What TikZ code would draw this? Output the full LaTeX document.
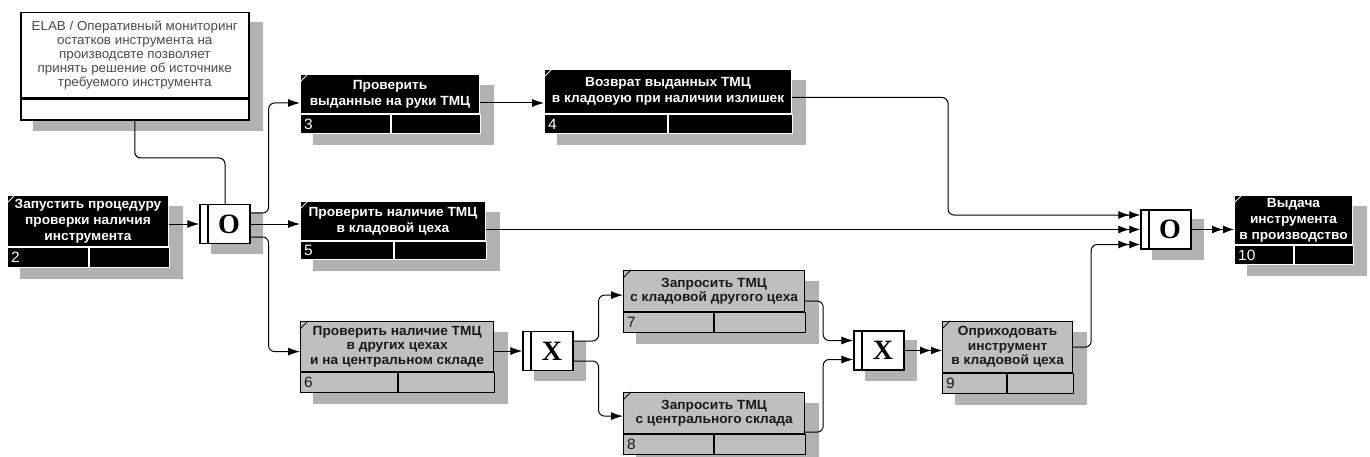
\documentclass[tikz,border=0pt]{standalone}
\usepackage{fontspec}
\setmainfont{Liberation Sans}[FakeStretch=1.03]
\newfontfamily\junfont{Liberation Serif}
\usetikzlibrary{arrows.meta,backgrounds}

\begin{document}
\begin{tikzpicture}[x=1pt, y=-1pt,
    every node/.style={font=\fontsize{13}{15}\selectfont},
    dkbox/.style={rectangle, anchor=north west, fill=black, draw=white, line width=1pt, text=white, font=\fontsize{13.3}{16}\selectfont\bfseries, align=center, inner sep=1pt},
    dkcell/.style={rectangle, anchor=north west, fill=black, draw=white, line width=1pt, inner sep=0pt},
    grbox/.style={rectangle, anchor=north west, fill=black!25, draw=black, line width=1.2pt, text=black!90, font=\fontsize{13.3}{14.5}\selectfont\bfseries, align=center, inner sep=1pt},
    grcell/.style={rectangle, anchor=north west, fill=black!25, draw=black, line width=1.2pt, inner sep=0pt},
    notebox/.style={rectangle, anchor=north west, fill=white, draw=black, line width=1.5pt, text=black!70, align=center, inner sep=1pt, font=\fontsize{13}{14}\selectfont},
    numtxt/.style={anchor=west, inner sep=0pt, font=\fontsize{15}{15}\selectfont},
    junc/.style={rectangle, draw, fill=white, line width=1.2pt, minimum width=50, minimum height=39, inner sep=0pt,
        font=\junfont\fontsize{28}{28}\selectfont\bfseries,
        path picture={\draw[line width=1.2pt] ([xshift=8pt]path picture bounding box.north west) -- ([xshift=8pt]path picture bounding box.south west);}},
    boxshadow/.style={fill=black!30},
    arr/.style={-{Latex[length=12pt,width=8pt]}, line width=1pt, rounded corners=6pt},
    arrr/.style={-{Latex[length=11pt,width=8pt] Latex[length=11pt,width=8pt]}, line width=1pt, rounded corners=6pt}
]
    \useasboundingbox (0,0) rectangle (1370,457);

    % Note on the source of the tool
    \node[notebox, minimum width=228, minimum height=85] (note) at (20,12) {ELAB / Оперативный мониторинг\\остатков инструмента на\\производсвте позволяет\\принять решение об источнике\\требуемого инструмента};
    \node[notebox, minimum width=228, minimum height=21] (nrow) at (note.south west) {};
    \begin{scope}[on background layer]
        \fill[boxshadow] ([shift={(13pt,-10pt)}]note.north west) rectangle ([shift={(13pt,-10pt)}]nrow.south east);
    \end{scope}

    % Black process boxes
    \foreach \nm/\px/\py/\bw/\bh/\rh/\cw/\lbl/\txt in {
        b2/7/195/161/51/20/81/2/{Запустить процедуру\\проверки наличия\\инструмента},
        b3/300/74/179/39/19/90/3/{Проверить\\выданные на руки ТМЦ},
        b4/544/69/247/44/19/123/4/{Возврат выданных ТМЦ\\в кладовую при наличии излишек},
        b5/300/201/185/39/18/93/5/{Проверить наличие ТМЦ\\в кладовой цеха},
        b10/1234/195/118/49/19/59/10/{Выдача\\инструмента\\в производство}} {
        \node[dkbox, minimum width=\bw, minimum height=\bh] (\nm) at (\px,\py) {\txt};
        \node[dkcell, minimum width=\cw, minimum height=\rh] (\nm l) at (\nm.south west) {};
        \node[dkcell, minimum width=\bw-\cw, minimum height=\rh] (\nm r) at (\nm l.north east) {};
        \node[numtxt, text=white] (\nm n) at ([xshift=4pt]\nm l.west) {\lbl};
        \draw[white, line width=1pt] ([yshift=-8pt]\nm.north west) -- ([xshift=8pt]\nm.north west);
        \begin{scope}[on background layer]
            \fill[boxshadow] ([shift={(13pt,-11pt)}]\nm.north west) rectangle ([shift={(13pt,-11pt)}]\nm r.south east);
        \end{scope}
    }

    % Grey process boxes
    \foreach \nm/\px/\py/\bw/\bh/\rh/\cw/\lbl/\txt in {
        b6/300/321/193/50/20/97/6/{Проверить наличие ТМЦ\\в других цехах\\и на центральном складе},
        b7/623/270/181/41/20/90/7/{Запросить ТМЦ\\с кладовой другого цеха},
        b8/623/392/181/41/20/90/8/{Запросить ТМЦ\\с центрального склада},
        b9/942/321/130/51/20/64/9/{Оприходовать\\инструмент\\в кладовой цеха}} {
        \node[grbox, minimum width=\bw, minimum height=\bh] (\nm) at (\px,\py) {\txt};
        \node[grcell, minimum width=\cw, minimum height=\rh] (\nm l) at (\nm.south west) {};
        \node[grcell, minimum width=\bw-\cw, minimum height=\rh] (\nm r) at (\nm l.north east) {};
        \node[numtxt, text=black!90] (\nm n) at ([xshift=4pt]\nm l.west) {\lbl};
        \draw[black, line width=0.8pt] ([yshift=-8pt]\nm.north west) -- ([xshift=8pt]\nm.north west);
        \begin{scope}[on background layer]
            \fill[boxshadow] ([shift={(13pt,-11pt)}]\nm.north west) rectangle ([shift={(13pt,-11pt)}]\nm r.south east);
        \end{scope}
    }

    % Junctions
    \node[junc] (jo1) at (225,224) {\hspace*{8pt}O};
    \node[junc] (jx1) at (548,351) {\hspace*{8pt}X};
    \node[junc] (jx2) at (879,350.5) {\hspace*{8pt}X};
    \node[junc] (jo2) at (1166,229.5) {\hspace*{8pt}O};
    \begin{scope}[on background layer]
        \foreach \j in {jo1, jx1, jx2, jo2}
            \fill[boxshadow] ([shift={(12pt,-10pt)}]\j.north west) rectangle ([shift={(12pt,-10pt)}]\j.south east);
    \end{scope}

    % Links
    \draw[line width=1pt, rounded corners=6pt] (nrow.south) -- ++(0,37) -| (jo1.north);
    \draw[arr] (b2.east |- jo1.west) -- (jo1.west);
    \draw[arr] ([yshift=11pt]jo1.east) -- ++(18,0) |- ([yshift=-9pt]b3.west);
    \draw[arr] (jo1.east) -- (jo1.east -| b5.west);
    \draw[arr] ([yshift=-13pt]jo1.east) -- ++(18,0) |- ([yshift=-5pt]b6.west);
    \draw[arr] ([yshift=-9pt]b3.east) -- ([yshift=-9pt]b3.east -| b4.west);
    \draw[arrr] ([yshift=-6pt]b4.east) -- ++(156,0) |- ([yshift=14.5pt]jo2.west);
    \draw[arrr] (b5.east |- jo2.west) -- (jo2.west);
    \draw[arrr] (b9.east) -- ++(18,0) |- ([yshift=-15pt]jo2.west);
    \draw[arrr] (jo2.east) -- (jo2.east -| b10.west);
    \draw[arr] (b6.east |- jx1.west) -- (jx1.west);
    \draw[arr] ([yshift=10pt]jx1.east) -- ++(25,0) |- ([yshift=-4pt]b7.west);
    \draw[arr] ([yshift=-10pt]jx1.east) -- ++(25,0) |- ([yshift=-3pt]b8.west);
    \draw[arr] ([yshift=-10pt]b7.east) -- ++(18,0) |- ([yshift=10pt]jx2.west);
    \draw[arr] ([yshift=-19pt]b8.east) -- ++(18,0) |- ([yshift=-9pt]jx2.west);
    \draw[arrr] (jx2.east) -- (jx2.east -| b9.west);

\end{tikzpicture}
\end{document}
